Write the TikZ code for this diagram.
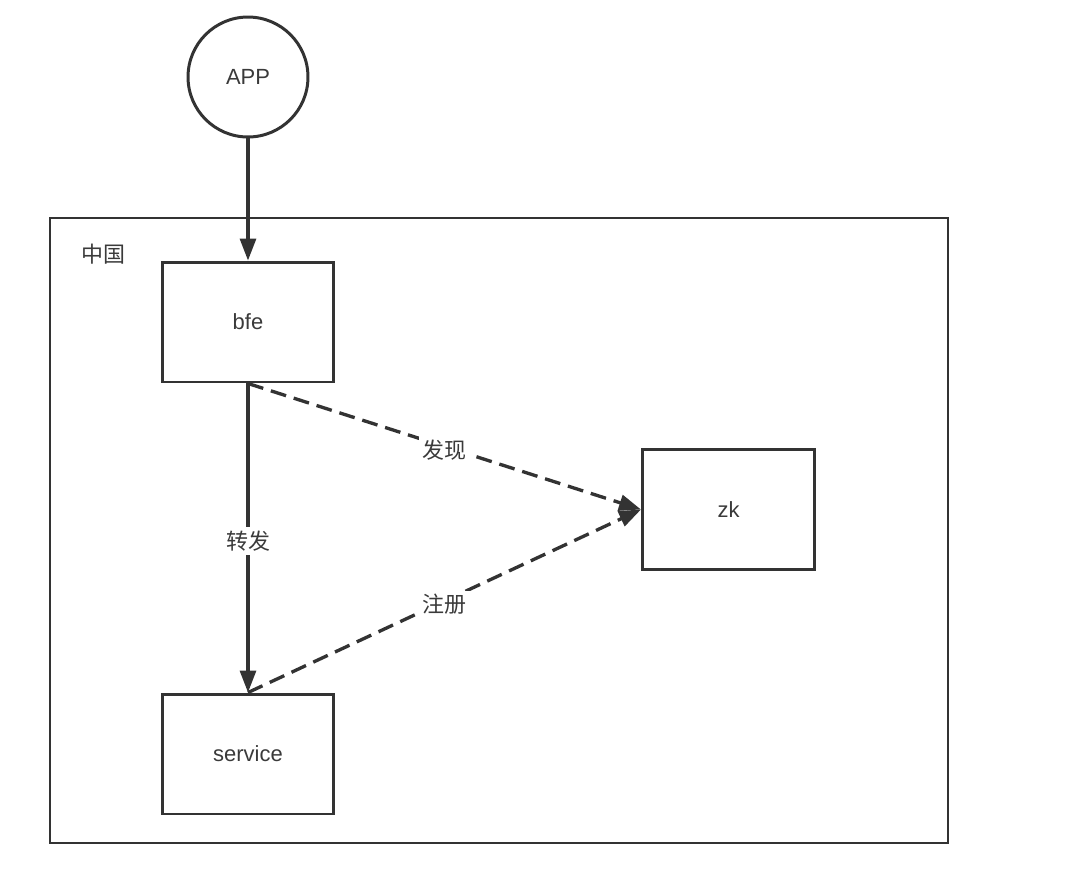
\documentclass[tikz,border=0pt]{standalone}
\usepackage{fontspec}
\setmainfont{Liberation Sans}
\newfontfamily\cjk{Noto Sans CJK SC}
\usepackage{tikz}
\usetikzlibrary{arrows.meta,positioning}
\definecolor{linegray}{HTML}{333333}
\definecolor{textgray}{HTML}{3A3A3A}
\tikzset{
  compbox/.style={draw=linegray, line width=1.7pt, minimum width=3.44cm,
                  minimum height=2.4cm, font=\fontsize{12.5}{15}\selectfont,
                  text=textgray, inner sep=0pt},
  clientnode/.style={draw=linegray, circle, line width=1.7pt, minimum size=2.4cm,
                     font=\fontsize{12.5}{15}\selectfont, text=textgray, inner sep=0pt},
  regionbox/.style={draw=linegray, line width=1.5pt},
  fwdarr/.style={-{Triangle[length=4.4mm, width=3.2mm]}, line width=1.8pt, linegray},
  zkarr/.style={-{Triangle[length=4.4mm, width=3.2mm]}, line width=1.9pt, linegray,
                dash pattern=on 3.2mm off 1.6mm},
  edgelbl/.style={fill=white, inner sep=2pt, text=textgray,
                  font=\cjk\fontsize{12.5}{15}\selectfont}
}

\begin{document}
\begin{tikzpicture}[x=0.02cm, y=-0.02cm]
    \useasboundingbox (0,0) rectangle (1080,887);

    % region frame
    \node[regionbox, minimum width=17.96cm, minimum height=12.5cm, inner sep=0pt]
      (cn) at (499,530.5) {};
    \node[font=\cjk\fontsize{12.5}{15}\selectfont, text=textgray] (cnlbl) at (103,254) {中国};

    \node[clientnode] (app) at (248,77) {APP};
    \node[compbox] (bfe) at (248,322) {bfe};
    \node[compbox] (svc) at (248,754) {service};
    \node[compbox] (zk)  at (728.5,509.5) {zk};

    \draw[fwdarr] (app.south) -- (bfe.north);
    \draw[fwdarr] (bfe.south) -- node[edgelbl, pos=0.51]{转发} (svc.north);

    \draw[zkarr] (bfe.south) -- node[edgelbl, pos=0.5, yshift=-2pt]{发现} (zk.west);
    \draw[zkarr] (svc.north) -- node[edgelbl, pos=0.5, yshift=-2pt]{注册} (zk.west);
  \end{tikzpicture}
\end{document}
